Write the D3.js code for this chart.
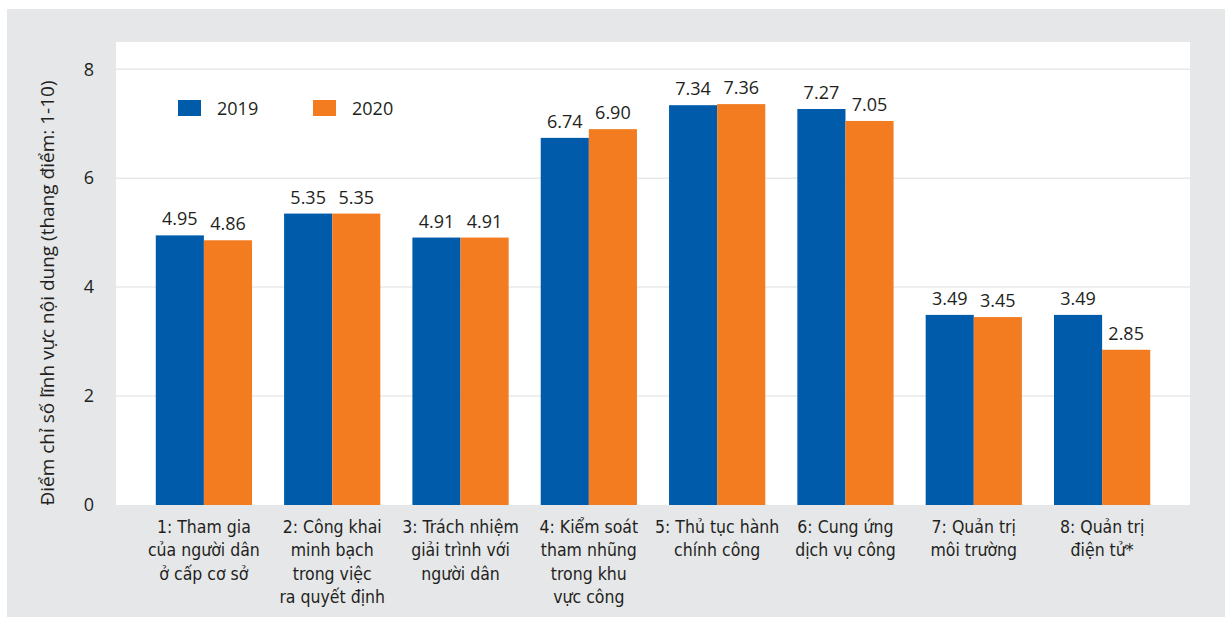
<!DOCTYPE html>
<html>
<head>
<meta charset="utf-8">
<script src="https://cdn.jsdelivr.net/npm/d3@7"></script>
<style>
  html, body { margin: 0; padding: 0; background: #ffffff; }
  svg { display: block; }
</style>
</head>
<body>
<svg id="chart" width="1225" height="619"></svg>
<script>
// Category labels (line-broken as printed under each group)
const categories = [
  ["1: Tham gia", "của người dân", "ở cấp cơ sở"],
  ["2: Công khai", "minh bạch", "trong việc", "ra quyết định"],
  ["3: Trách nhiệm", "giải trình với", "người dân"],
  ["4: Kiểm soát", "tham nhũng", "trong khu", "vực công"],
  ["5: Thủ tục hành", "chính công"],
  ["6: Cung ứng", "dịch vụ công"],
  ["7: Quản trị", "môi trường"],
  ["8: Quản trị", "điện tử*"]
];
const seriesNames = ["2019", "2020"];
const values2019 = [4.95, 5.35, 4.91, 6.74, 7.34, 7.27, 3.49, 3.49];
const values2020 = [4.86, 5.35, 4.91, 6.90, 7.36, 7.05, 3.45, 2.85];
const yTicks = [0, 2, 4, 6, 8];
const yTitle = "Điểm chỉ số lĩnh vực nội dung (thang điểm: 1-10)";

const colors = { "2019": "#005baa", "2020": "#f37c21" };
const textColor = "#231f20";
const panelColor = "#e6e7e9";
const bodyFont = "'Open Sans', 'Noto Sans', sans-serif";
const narrowFont = "'Liberation Sans Narrow', 'DejaVu Sans Condensed', 'Open Sans', sans-serif";

const svg = d3.select("#chart");

// grey panel and white plotting area
svg.append("rect").attr("x", 7).attr("y", 9).attr("width", 1218).attr("height", 608).attr("fill", panelColor);
const plot = { left: 116, right: 1190, top: 42, bottom: 505 };
svg.append("rect")
  .attr("x", plot.left).attr("y", plot.top)
  .attr("width", plot.right - plot.left).attr("height", plot.bottom - plot.top)
  .attr("fill", "#ffffff");

const y = d3.scaleLinear().domain([0, 8.5]).range([plot.bottom, plot.top]);
const x0 = d3.scaleBand()
  .domain(d3.range(categories.length))
  .range([plot.left, plot.right])
  .paddingInner(0.25)
  .paddingOuter(0.31);
const x1 = d3.scaleBand().domain(seriesNames).range([0, x0.bandwidth()]).padding(0);

// horizontal gridlines
svg.append("g")
  .selectAll("line")
  .data(yTicks.filter(t => t > 0))
  .join("line")
  .attr("x1", plot.left).attr("x2", plot.right)
  .attr("y1", d => y(d)).attr("y2", d => y(d))
  .attr("stroke", "#e8e8e9").attr("stroke-width", 1.5);

// y axis tick labels
const yAxis = d3.axisLeft(y).tickValues(yTicks).tickSize(0).tickPadding(22).tickFormat(d3.format("d"));
const yg = svg.append("g").attr("transform", `translate(${plot.left},0)`).call(yAxis);
yg.select(".domain").remove();
yg.selectAll("text")
  .attr("font-family", bodyFont).attr("font-size", 18).attr("fill", textColor);

// y axis title
svg.append("text")
  .attr("transform", `translate(54,293) rotate(-90)`)
  .attr("text-anchor", "middle")
  .attr("font-family", bodyFont).attr("font-size", 19).attr("fill", textColor)
  .text(yTitle);

// bars
const rows = categories.map((c, i) => ({
  i,
  items: [
    { key: "2019", value: values2019[i] },
    { key: "2020", value: values2020[i] }
  ]
}));

const groups = svg.append("g").selectAll("g")
  .data(rows)
  .join("g")
  .attr("transform", d => `translate(${x0(d.i)},0)`);

groups.selectAll("rect")
  .data(d => d.items)
  .join("rect")
  .attr("x", d => x1(d.key))
  .attr("y", d => y(d.value))
  .attr("width", x1.bandwidth())
  .attr("height", d => y(0) - y(d.value))
  .attr("fill", d => colors[d.key]);

groups.selectAll("text.val")
  .data(d => d.items)
  .join("text")
  .attr("class", "val")
  .attr("x", d => x1(d.key) + x1.bandwidth() / 2)
  .attr("y", d => y(d.value) - 10)
  .attr("text-anchor", "middle")
  .attr("font-family", bodyFont).attr("font-size", 18).attr("fill", textColor)
  .text(d => d.value.toFixed(2));

// category labels
const xl = svg.append("g");
categories.forEach((lines, i) => {
  const t = xl.append("text")
    .attr("x", x0(i) + x0.bandwidth() / 2)
    .attr("y", 533)
    .attr("text-anchor", "middle")
    .attr("font-family", narrowFont).attr("font-size", 17.5).attr("fill", textColor);
  lines.forEach((ln, k) => {
    t.append("tspan")
      .attr("x", x0(i) + x0.bandwidth() / 2)
      .attr("dy", k === 0 ? 0 : 23.3)
      .text(ln);
  });
});

// legend
const legend = svg.append("g");
const legendX = [178, 313];
seriesNames.forEach((s, k) => {
  legend.append("rect")
    .attr("x", legendX[k]).attr("y", 100).attr("width", 23).attr("height", 16)
    .attr("fill", colors[s]);
  legend.append("text")
    .attr("x", legendX[k] + 39).attr("y", 114.5)
    .attr("font-family", bodyFont).attr("font-size", 18).attr("fill", textColor)
    .text(s);
});
</script>
</body>
</html>
